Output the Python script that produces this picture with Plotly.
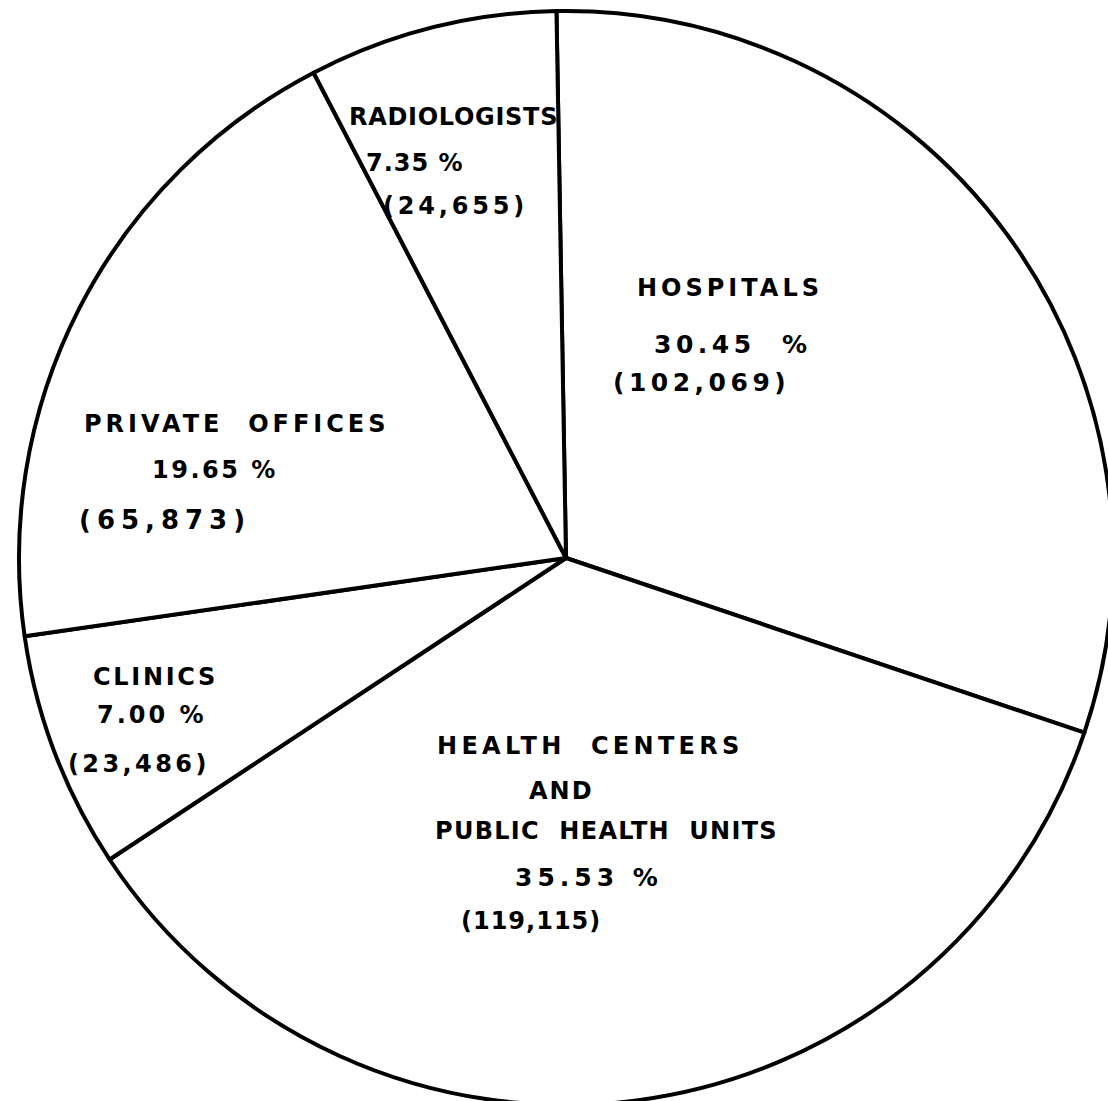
import plotly.graph_objects as go

# ---- data ----
labels = ["HOSPITALS", "HEALTH CENTERS AND PUBLIC HEALTH UNITS", "CLINICS",
          "PRIVATE OFFICES", "RADIOLOGISTS"]
values = [102069, 119115, 23486, 65873, 24655]
percents = [30.45, 35.53, 7.00, 19.65, 7.35]

# figure a bit larger than the window so the circle can run past the edge
W, H = 1124, 1112
CX, CY, R = 566, 558, 547   # pie centre / radius in page pixels

fig = go.Figure()
fig.add_trace(go.Pie(
    labels=labels,
    values=values,
    sort=False,
    direction="clockwise",
    rotation=-1,
    textinfo="none",
    hoverinfo="label+value+percent",
    marker=dict(colors=["white"] * len(values),
                line=dict(color="black", width=4)),
    domain=dict(x=[(CX - R) / W, (CX + R) / W],
                y=[(H - CY - R) / H, (H - CY + R) / H]),
    showlegend=False,
))

FONT = "DejaVu Sans"


def add(txt, cx, cy, sp, size=24):
    fig.add_annotation(
        x=cx / W, y=1 - cy / H, xref="paper", yref="paper",
        text=f'<span style="letter-spacing:{sp}px"><b>{txt}</b></span>',
        showarrow=False, xanchor="center", yanchor="middle",
        font=dict(family=FONT, size=size, color="black"),
    )


def pct(i, gap=" "):
    return f"{percents[i]:.2f}{gap}%"


def cnt(i):
    return f"({values[i]:,})"


S2 = "&nbsp;&nbsp;"
# Hospitals
add("HOSPITALS", 730, 288, 4)
add(pct(0, S2), 733, 344, 4.5, 25)
add(cnt(0), 701, 383, 4.5, 25)
# Health centers
add("HEALTH" + S2 + "CENTERS", 590, 746, 4.3)
add("AND", 561, 791, 2)
add("PUBLIC" + S2 + "HEALTH" + S2 + "UNITS", 606, 831, 1.3)
add(pct(1), 589, 877, 5, 25)
add(cnt(1), 531, 921, 1)
# Clinics
add("CLINICS", 155, 677, 2.7)
add(pct(2), 152, 715, 3)
add(cnt(2), 139, 764, 3.4)
# Private offices
add("PRIVATE" + S2 + "OFFICES", 237, 424, 4)
add(pct(3), 215, 470, 2.5)
add(cnt(3), 165, 520, 6, 26)
# Radiologists
add("RADIOLOGISTS", 453, 117, 0.7)
add(pct(4), 415, 163, 1)
add(cnt(4), 455, 206, 3.8)

fig.update_layout(
    width=W, height=H,
    margin=dict(l=0, r=0, t=0, b=0),
    paper_bgcolor="white", plot_bgcolor="white",
)

fig.write_html(
    "out.html",
    config={"displayModeBar": False},
    post_script="document.body.style.margin='0';"
                "document.body.style.overflow='hidden';",
)
